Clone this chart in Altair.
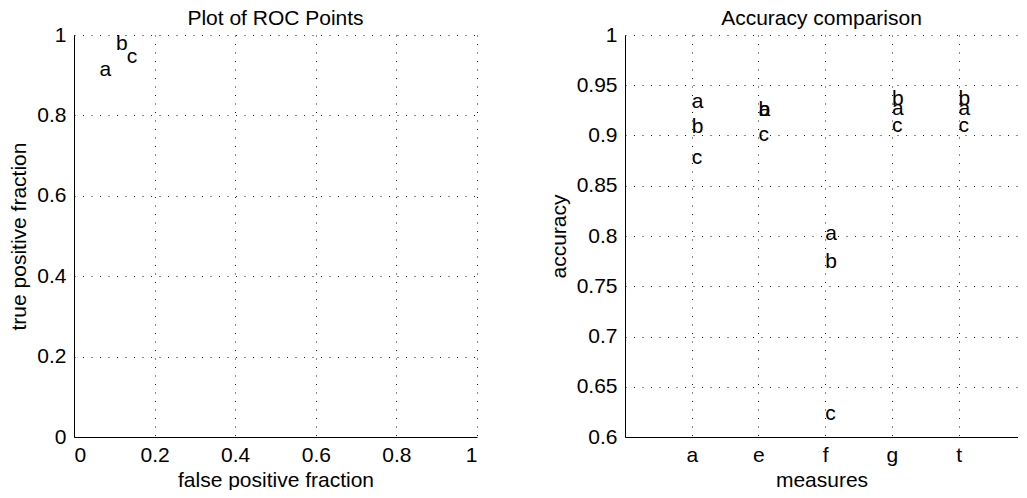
import altair as alt
import pandas as pd

FONT = "Liberation Sans"
FS = 21

# ROC points (left panel)
roc_labels = ["a", "b", "c"]
roc_fpr = [0.063, 0.104, 0.131]
roc_tpr = [0.913, 0.978, 0.9465]

# Accuracy comparison (right panel)
measures = ["a", "e", "f", "g", "t"]
acc_a = [0.9331, 0.9249, 0.802, 0.9261, 0.9261]
acc_b = [0.9083, 0.9252, 0.7739, 0.9365, 0.9365]
acc_c = [0.8776, 0.9003, 0.6226, 0.9097, 0.9097]

left_ticks = [0, 0.2, 0.4, 0.6, 0.8, 1]
right_yticks = [0.6, 0.65, 0.7, 0.75, 0.8, 0.85, 0.9, 0.95, 1]

roc_df = pd.DataFrame({"label": roc_labels, "fpr": roc_fpr, "tpr": roc_tpr})

rows = []
for i, m in enumerate(measures):
    for lab, series in (("a", acc_a), ("b", acc_b), ("c", acc_c)):
        rows.append({"measure": m, "pos": i + 1, "label": lab, "acc": series[i]})
acc_df = pd.DataFrame(rows)

text_style = dict(align="left", baseline="middle", fontSize=FS, font=FONT, color="black")

left = alt.Chart(roc_df).mark_text(**text_style).encode(
    x=alt.X("fpr:Q", scale=alt.Scale(domain=[0, 1], nice=False),
            axis=alt.Axis(values=left_ticks, format="~g", title="false positive fraction")),
    y=alt.Y("tpr:Q", scale=alt.Scale(domain=[0, 1], nice=False),
            axis=alt.Axis(values=left_ticks, format="~g", title="true positive fraction")),
    text="label:N",
).properties(
    width=403, height=402,
    title=alt.TitleParams("Plot of ROC Points", frame="group", anchor="middle", offset=-5),
)

label_expr = "[" + ",".join("'%s'" % m for m in measures) + "][datum.value - 1]"

right = alt.Chart(acc_df).mark_text(**text_style).encode(
    x=alt.X("pos:Q", scale=alt.Scale(domain=[0, 5.89], nice=False, zero=False),
            axis=alt.Axis(values=list(range(1, len(measures) + 1)), labelExpr=label_expr,
                          title="measures")),
    y=alt.Y("acc:Q", scale=alt.Scale(domain=[0.6, 1], nice=False, zero=False),
            axis=alt.Axis(values=right_yticks, format="~g", title="accuracy")),
    text="label:N",
).properties(
    width=393, height=402,
    title=alt.TitleParams("Accuracy comparison", frame="group", anchor="middle", offset=-5),
)

chart = alt.hconcat(left, right, spacing=71).properties(
    padding=0
).configure_view(stroke=None).configure_axis(
    labelFont=FONT, labelFontSize=FS, labelColor="black", labelPadding=8,
    titleFont=FONT, titleFontSize=FS, titleFontWeight="normal", titleColor="black",
    titlePadding=7,
    domainColor="black", domainWidth=1,
    ticks=False,
    grid=True, gridColor="black", gridDash=[1, 7.5], gridWidth=1, gridOpacity=0.9,
).configure_axisX(
    labelPadding=7, titlePadding=4,
).configure_title(
    font=FONT, fontSize=FS, fontWeight="normal", color="black",
)

chart.save("out.html", embed_options={"renderer": "svg", "actions": False})
